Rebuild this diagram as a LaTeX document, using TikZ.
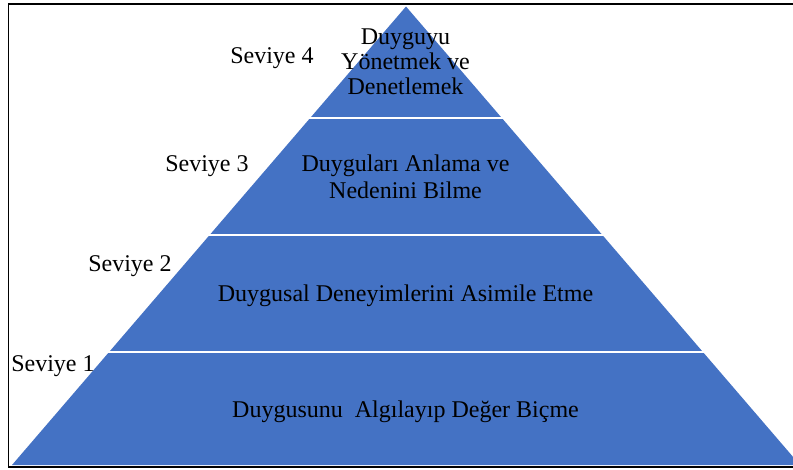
\documentclass[tikz,border=0pt]{standalone}
\usepackage{fontspec}
\setmainfont{Liberation Serif}
\definecolor{pyrblue}{HTML}{4472C4}
\tikzset{
  pyr/.style={fill=pyrblue},
  gap/.style={draw=white, line width=1.9pt},
  lbl/.style={inner sep=0pt, anchor=base west, font=\fontsize{18}{20}\selectfont},
  tiertxt/.style={inner sep=0pt, anchor=base, font=\fontsize{18}{20}\selectfont},
  frame/.style={draw=black, line width=1.2pt}
}
\begin{document}
\begin{tikzpicture}[x=0.75pt,y=-0.75pt]
\useasboundingbox (0,0) rectangle (793,470);
% pyramid
\coordinate (apex) at (406,6.5);
\coordinate (bl) at (12,465);
\coordinate (br) at (800,465);
\fill[pyr] (apex) -- (br) -- (bl) -- cycle;
% white separators
\coordinate (s3l) at (307,118); \coordinate (s3r) at (505,118);
\coordinate (s2l) at (206,235); \coordinate (s2r) at (606,235);
\coordinate (s1l) at (105,352); \coordinate (s1r) at (707,352);
\draw[gap] (s3l) -- (s3r);
\draw[gap] (s2l) -- (s2r);
\draw[gap] (s1l) -- (s1r);
% frame (open on the right)
\coordinate (ftr) at (795,4);
\coordinate (ftl) at (8.5,4);
\coordinate (fbl) at (8.5,466.8);
\coordinate (fbr) at (795,466.8);
\draw[frame] (ftr) -- (ftl) -- (fbl) -- (fbr);
% tier texts
\node[tiertxt] (t4a) at (405.5,44.5) {Duyguyu};
\node[tiertxt] (t4b) at (405.5,70) {Yönetmek ve};
\node[tiertxt] (t4c) at (405.5,95) {Denetlemek};
\node[tiertxt] (t3a) at (405.5,172) {Duyguları Anlama ve};
\node[tiertxt] (t3b) at (405.5,198.5) {Nedenini Bilme};
\node[tiertxt] (t2) at (405.5,302) {Duygusal Deneyimlerini Asimile Etme};
\node[tiertxt] (t1) at (405.5,417) {Duygusunu\ \ Algılayıp Değer Biçme};
% level labels
\node[lbl] (l4) at (230,64) {Seviye 4};
\node[lbl] (l3) at (165,172) {Seviye 3};
\node[lbl] (l2) at (88,272) {Seviye 2};
\node[lbl] (l1) at (11,372) {Seviye 1};
\end{tikzpicture}
\end{document}
